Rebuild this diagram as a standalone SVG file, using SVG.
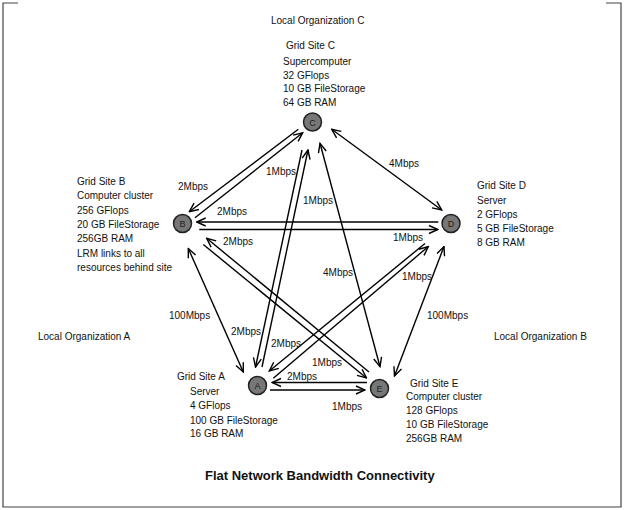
<svg xmlns="http://www.w3.org/2000/svg" width="624" height="510" viewBox="0 0 624 510">
<style>
.t{font-family:"Liberation Sans",Arial,sans-serif;font-size:10px;fill:#111}
.title{font-family:"Liberation Sans",Arial,sans-serif;font-size:13px;font-weight:bold;fill:#111}
.nc{fill:#777;stroke:#222;stroke-width:1.5}
.nl{font-family:"Liberation Sans",Arial,sans-serif;font-size:9px;fill:#222;text-anchor:middle}
.e{stroke:#000;stroke-width:1.4;fill:none}
.ea{stroke:#000;stroke-width:1.4;fill:none;marker-end:url(#ah)}
.eb{stroke:#000;stroke-width:1.4;fill:none;marker-start:url(#ah);marker-end:url(#ah)}
.frame{fill:none;stroke:#444;stroke-width:1.2}
</style>
<defs>
<marker id="ah" viewBox="-11 -6 12 12" refX="0" refY="0" markerWidth="12" markerHeight="12" markerUnits="userSpaceOnUse" orient="auto-start-reverse">
<path d="M-9,-4 L0,0 L-9,4" fill="none" stroke="#000" stroke-width="1.4"/>
</marker>
</defs>
<rect width="624" height="510" fill="#fff"/>
<path class="frame" d="M18,3 L3,3 L3,507 L621,507 L621,3 L606,3"/>

<g id="regions">
<text class="t" x="271" y="24">Local Organization C</text>
<text class="t" x="38" y="340">Local Organization A</text>
<text class="t" x="494" y="340">Local Organization B</text>
</g>

<g id="connectors">
<path class="ea" d="M298.3,129.3 L189.3,211.7"/>
<path class="ea" d="M195,217.7 L302.7,132.7"/>
<path class="eb" d="M331.7,129.3 L441.7,210"/>
<path class="ea" d="M438.3,222 L196.7,222"/>
<path class="ea" d="M199.3,229.5 L438,229.5"/>
<path class="ea" d="M302,150 L255.5,367"/>
<path class="ea" d="M262,367 L308,150"/>
<path class="eb" d="M320,143.3 L380,366.7"/>
<path class="ea" d="M369,372 L206.7,238.3"/>
<path class="ea" d="M203.3,244.5 L366.5,378"/>
<path class="eb" d="M188.3,248.5 L243.3,372"/>
<path class="ea" d="M425,243.5 L269.3,371"/>
<path class="ea" d="M273.3,378.3 L428.3,246.5"/>
<path class="eb" d="M444,246.5 L394.5,376"/>
<path class="ea" d="M367,382.5 L272,382.5"/>
<path class="ea" d="M270,390 L365,390"/>
<text class="t" x="178" y="189.5">2Mbps</text>
<text class="t" x="266" y="174.5">1Mbps</text>
<text class="t" x="389" y="167">4Mbps</text>
<text class="t" x="303" y="203.5">1Mbps</text>
<text class="t" x="217" y="214.5">2Mbps</text>
<text class="t" x="393" y="241">1Mbps</text>
<text class="t" x="223" y="245">2Mbps</text>
<text class="t" x="323" y="276">4Mbps</text>
<text class="t" x="402" y="280">1Mbps</text>
<text class="t" x="169" y="319">100Mbps</text>
<text class="t" x="427" y="319">100Mbps</text>
<text class="t" x="231" y="335">2Mbps</text>
<text class="t" x="271" y="347">2Mbps</text>
<text class="t" x="312" y="366">1Mbps</text>
<text class="t" x="287" y="380">2Mbps</text>
<text class="t" x="332" y="410">1Mbps</text>
</g>

<g id="nodeC">
<circle class="nc" cx="312.5" cy="122" r="9"/>
<text class="nl" x="312.5" y="125.5">C</text>
<text class="t" x="286" y="49">Grid Site C</text>
<text class="t" x="283" y="64.5">Supercomputer</text>
<text class="t" x="283" y="78.5">32 GFlops</text>
<text class="t" x="283" y="92">10 GB FileStorage</text>
<text class="t" x="283" y="106">64 GB RAM</text>
</g>

<g id="nodeB">
<circle class="nc" cx="182.5" cy="223.5" r="9"/>
<text class="nl" x="182.5" y="227">B</text>
<text class="t" x="77" y="184.5">Grid Site B</text>
<text class="t" x="77" y="199">Computer cluster</text>
<text class="t" x="77" y="213.5">256 GFlops</text>
<text class="t" x="77" y="228">20 GB FileStorage</text>
<text class="t" x="77" y="242">256GB RAM</text>
<text class="t" x="77" y="256.5">LRM links to all</text>
<text class="t" x="77" y="271">resources behind site</text>
</g>

<g id="nodeD">
<circle class="nc" cx="451" cy="223.5" r="9"/>
<text class="nl" x="451" y="227">D</text>
<text class="t" x="477" y="189">Grid Site D</text>
<text class="t" x="477" y="203.5">Server</text>
<text class="t" x="477" y="217.5">2 GFlops</text>
<text class="t" x="477" y="232">5 GB FileStorage</text>
<text class="t" x="477" y="245.5">8 GB RAM</text>
</g>

<g id="nodeA">
<circle class="nc" cx="257.5" cy="385.5" r="9"/>
<text class="nl" x="257.5" y="389">A</text>
<text class="t" x="177" y="380">Grid Site A</text>
<text class="t" x="190" y="395">Server</text>
<text class="t" x="190" y="409">4 GFlops</text>
<text class="t" x="190" y="423.5">100 GB FileStorage</text>
<text class="t" x="190" y="437">16 GB RAM</text>
</g>

<g id="nodeE">
<circle class="nc" cx="379.5" cy="388.5" r="9"/>
<text class="nl" x="379.5" y="392">E</text>
<text class="t" x="410" y="386.5">Grid Site E</text>
<text class="t" x="406" y="400">Computer cluster</text>
<text class="t" x="406" y="414">128 GFlops</text>
<text class="t" x="406" y="427.5">10 GB FileStorage</text>
<text class="t" x="406" y="441.5">256GB RAM</text>
</g>

<text class="title" x="205" y="480">Flat Network Bandwidth Connectivity</text>
</svg>
